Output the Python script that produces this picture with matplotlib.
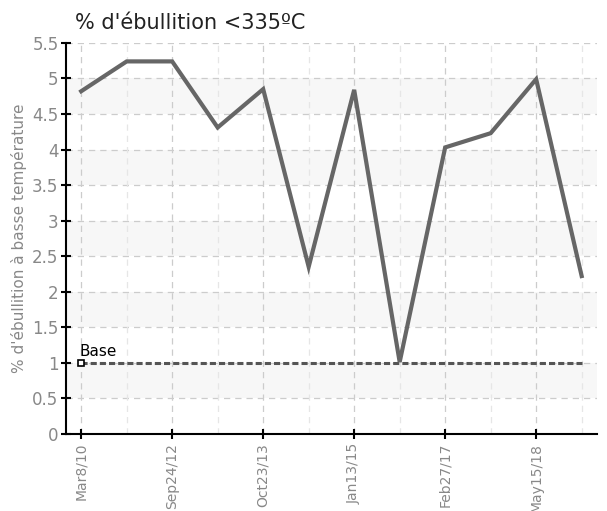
import matplotlib
matplotlib.use('Agg')
import matplotlib.pyplot as plt
import numpy as np

# ── Data ─────────────────────────────────────────────────────────────────────
dates = ['Mar8/10', '', 'Sep24/12', '', 'Oct23/13', '', 'Jan13/15', '',
         'Feb27/17', '', 'May15/18', '']
values = [4.82, 5.24, 5.24, 4.31, 4.85, 2.35, 4.84, 1.01, 4.03, 4.23, 4.99, 2.22]
base = [1.0] * len(values)
yticks = [0, 0.5, 1, 1.5, 2, 2.5, 3, 3.5, 4, 4.5, 5, 5.5]

narrow = ['Liberation Sans Narrow', 'DejaVu Sans']

x = np.arange(len(values))

fig = plt.figure(figsize=(6.07, 5.11), dpi=100)
ax = fig.add_axes([0.109, 0.151, 0.874, 0.765])

# alternating light bands
for lo in np.arange(0.5, 5.5, 1.0):
    ax.axhspan(lo, lo + 0.5, color='#f7f7f7', zorder=0, lw=0)

# grid
for yv in yticks:
    ax.axhline(yv, color='#cccccc', lw=0.9, ls=(0, (5, 4)), zorder=1)
for xv in x:
    c = '#cccccc' if xv % 2 == 0 else '#e6e6e6'
    ax.axvline(xv, color=c, lw=0.9, ls=(0, (5, 4)), zorder=1)

# series
ax.plot(x, base, color='#555555', lw=2.2, ls=(0, (2, 1)), zorder=3)
ax.plot([x[0]], [base[0]], marker='s', ms=5, mfc='white', mec='black',
        mew=1.2, zorder=5)
ax.text(x[0] - 0.03, base[0] + 0.05, 'Base', fontsize=11, color='black',
        ha='left', va='bottom', zorder=5, family=narrow)
ax.plot(x, values, color='#666666', lw=3, zorder=4, solid_joinstyle='miter')

ax.set_xlim(-0.33, 11.33)
ax.set_ylim(0, 5.5)
ax.set_yticks(yticks)
ax.set_yticklabels(['0', '0.5', '1', '1.5', '2', '2.5', '3', '3.5', '4',
                    '4.5', '5', '5.5'], family=narrow, fontsize=12)
ax.set_xticks(x[::2])
ax.set_xticklabels([d for d in dates if d], rotation=90, family=narrow,
                   fontsize=10)

for s in ['top', 'right']:
    ax.spines[s].set_visible(False)
for s in ['left', 'bottom']:
    ax.spines[s].set_linewidth(1.5)
    ax.spines[s].set_color('black')

ax.tick_params(axis='both', direction='inout', length=7, width=1.5,
               colors='black', labelcolor='#888888')
ax.tick_params(axis='x', pad=3)
ax.tick_params(axis='y', pad=2)

ax.set_ylabel("% d'ébullition à basse température", color='#888888',
              fontsize=11, labelpad=4, family=narrow)
fig.text(0.124, 0.955, "% d'ébullition <335ºC", fontsize=15, color='#222222',
         ha='left', va='center')

plt.savefig('out.png', dpi=100, facecolor='white')
